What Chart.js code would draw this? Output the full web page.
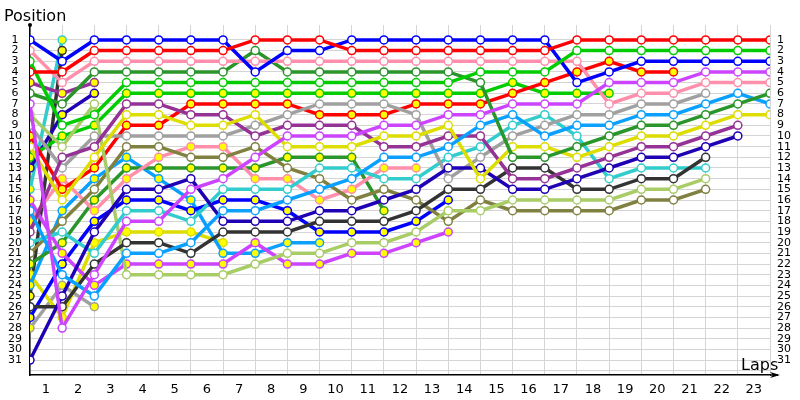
<!DOCTYPE html>
<html>
<head>
<meta charset="utf-8">
<title>Lap chart</title>
<script src="https://cdn.jsdelivr.net/npm/chart.js@4.4.1/dist/chart.umd.min.js"></script>
<style>
  html, body { margin: 0; padding: 0; background: #fff; }
  #wrap { width: 800px; height: 400px; }
</style>
</head>
<body>
<div id="wrap"><canvas id="LapChart"></canvas></div>
<script>
// laps on the x axis (0 = start grid) and the labels printed between them
const laps = [0, 1, 2, 3, 4, 5, 6, 7, 8, 9, 10, 11, 12, 13, 14, 15, 16, 17, 18, 19, 20, 21, 22, 23];
const lapLabels = ["1", "2", "3", "4", "5", "6", "7", "8", "9", "10", "11", "12", "13", "14", "15", "16", "17", "18", "19", "20", "21", "22", "23"];
const positions = [1, 2, 3, 4, 5, 6, 7, 8, 9, 10, 11, 12, 13, 14, 15, 16, 17, 18, 19, 20, 21, 22, 23, 24, 25, 26, 27, 28, 29, 30, 31];

// position of each car per lap (index = lap)
const blueW = [1, 3, 1, 1, 1, 1, 1, 4, 2, 2, 1, 1, 1, 1, 1, 1, 1, 5, 4, 3, 3, 3, 3, 3];
const redW = [4, 4, 2, 2, 2, 2, 2, 1, 1, 1, 2, 2, 2, 2, 2, 2, 2, 1, 1, 1, 1, 1, 1, 1];
const pinkW = [2, 5, 3, 3, 3, 3, 3, 3, 3, 3, 3, 3, 3, 3, 3, 3, 3, 3, 7, 6, 6, 5, 5, 5];
const forestW = [6, 7, 4, 4, 4, 4, 4, 2, 4, 4, 4, 4, 4, 4, 5, 12, 12, 11, 10, 9, 9, 8, 7, 6];
const brightW = [3, 9, 8, 5, 5, 5, 5, 5, 5, 5, 5, 5, 5, 5, 4, 4, 4, 2, 2, 2, 2, 2, 2, 2];
const magentaW = [7, 28, 23, 18, 18, 15, 14, 12, 10, 10, 10, 9, 9, 8, 8, 7, 7, 7, 5, 5, 5, 4, 4, 4];
const skyW = [17, 23, 25, 21, 21, 20, 17, 17, 16, 15, 14, 12, 12, 11, 9, 8, 10, 9, 9, 8, 8, 7, 6, 7];
const yellowW = [11, 16, 12, 8, 8, 9, 9, 8, 11, 11, 11, 10, 10, 9, 14, 11, 11, 12, 11, 10, 10, 9, 8, 8];
const purpleW = [19, 12, 11, 7, 7, 8, 8, 10, 9, 9, 9, 11, 11, 10, 10, 14, 14, 13, 12, 11, 11, 10, 9];
const indigoW = [31, 25, 19, 15, 15, 14, 18, 18, 18, 17, 17, 16, 15, 13, 13, 15, 15, 14, 13, 12, 12, 11, 10];
const grayW = [9, 13, 10, 10, 10, 10, 10, 9, 8, 7, 7, 7, 8, 14, 12, 10, 9, 8, 8, 7, 7, 6];
const darkW = [26, 26, 22, 20, 20, 21, 19, 19, 19, 18, 18, 18, 17, 15, 15, 13, 13, 15, 15, 14, 14, 12];
const cyanW = [20, 19, 21, 17, 17, 18, 15, 15, 15, 13, 13, 14, 14, 12, 11, 9, 8, 10, 14, 13, 13, 13];
const lightGreenW = [8, 11, 7, 23, 23, 23, 23, 22, 21, 21, 20, 20, 19, 17, 17, 16, 16, 16, 16, 15, 15, 14];
const oliveW = [21, 18, 15, 11, 11, 12, 12, 11, 13, 14, 16, 15, 16, 18, 16, 17, 17, 17, 17, 16, 16, 15];
const redY = [10, 15, 13, 9, 9, 7, 7, 7, 7, 8, 8, 8, 7, 7, 7, 6, 5, 4, 3, 4, 4];
const brightY = [12, 10, 9, 6, 6, 6, 6, 6, 6, 6, 6, 6, 6, 6, 6, 5, 6, 6, 6];
const magentaY = [16, 21, 24, 22, 22, 22, 22, 20, 22, 22, 21, 21, 20, 19];
const blueY = [27, 22, 18, 16, 16, 17, 16, 16, 17, 19, 19, 19, 18, 16];
const pinkY = [18, 14, 17, 14, 12, 11, 11, 14, 14, 16, 15, 13, 13];
const forestY = [22, 20, 16, 13, 13, 13, 13, 13, 12, 12, 12, 17];
const skyY = [24, 17, 14, 12, 14, 16, 21, 21, 20, 20];
const yellowY = [23, 27, 20, 19, 19, 19, 20];
const purpleY = [5, 6, 5];
const indigoY = [13, 8, 6];
const grayY = [28, 24, 26];
const darkY = [25, 2];
const cyanY = [15, 1];

const cars = [
    { data: redW, color: "#ff0000", fill: "#ffffff" },
    { data: brightW, color: "#00cc00", fill: "#ffffff" },
    { data: blueW, color: "#0000ff", fill: "#ffffff" },
    { data: magentaW, color: "#cc44ff", fill: "#ffffff" },
    { data: pinkW, color: "#ff8fab", fill: "#ffffff" },
    { data: forestW, color: "#2a952a", fill: "#ffffff" },
    { data: skyW, color: "#0aa0ff", fill: "#ffffff" },
    { data: yellowW, color: "#dddd00", fill: "#ffffff" },
    { data: purpleW, color: "#953295", fill: "#ffffff" },
    { data: indigoW, color: "#2000b4", fill: "#ffffff" },
    { data: grayW, color: "#a0a0a0", fill: "#ffffff" },
    { data: darkW, color: "#333333", fill: "#ffffff" },
    { data: cyanW, color: "#33cccc", fill: "#ffffff" },
    { data: lightGreenW, color: "#a8cc66", fill: "#ffffff" },
    { data: oliveW, color: "#808040", fill: "#ffffff" },
    { data: redY, color: "#ff0000", fill: "#ffff00" },
    { data: brightY, color: "#00cc00", fill: "#ffff00" },
    { data: magentaY, color: "#cc44ff", fill: "#ffff00" },
    { data: blueY, color: "#0000ff", fill: "#ffff00" },
    { data: pinkY, color: "#ff8fab", fill: "#ffff00" },
    { data: forestY, color: "#2a952a", fill: "#ffff00" },
    { data: skyY, color: "#0aa0ff", fill: "#ffff00" },
    { data: yellowY, color: "#dddd00", fill: "#ffff00" },
    { data: purpleY, color: "#953295", fill: "#ffff00" },
    { data: indigoY, color: "#2000b4", fill: "#ffff00" },
    { data: grayY, color: "#a0a0a0", fill: "#ffff00" },
    { data: darkY, color: "#333333", fill: "#ffff00" },
    { data: cyanY, color: "#33cccc", fill: "#ffff00" }
];

const FONT = "'DejaVu Sans', Verdana, sans-serif";

// axis arrow, dot and the two axis captions
const decorations = {
    id: "decorations",
    afterDraw(chart) {
        const c = chart.ctx;
        const a = chart.chartArea;
        c.save();
        c.fillStyle = "#000";
        c.strokeStyle = "#000";
        c.lineWidth = 1.5;
        c.beginPath();
        c.arc(a.left, a.top, 2, 0, Math.PI * 2);
        c.fill();
        c.beginPath();
        c.moveTo(a.right, a.bottom);
        c.lineTo(a.right + 8, a.bottom);
        c.stroke();
        c.beginPath();
        c.moveTo(a.right + 10, a.bottom);
        c.lineTo(a.right, a.bottom - 3);
        c.lineTo(a.right + 3, a.bottom);
        c.lineTo(a.right, a.bottom + 3);
        c.closePath();
        c.fill();
        c.font = "16px " + FONT;
        c.textBaseline = "alphabetic";
        c.textAlign = "left";
        c.fillText("Position", 4, 21);
        c.fillText("Laps", 741, 370);
        c.restore();
    }
};

const ctx = document.getElementById("LapChart").getContext("2d");
new Chart(ctx, {
    type: "line",
    data: {
        datasets: cars.map(car => ({
            data: car.data.map((p, i) => ({ x: laps[i], y: p })),
            borderColor: car.color,
            backgroundColor: car.color,
            borderWidth: 3.5,
            pointRadius: 4,
            pointBorderWidth: 1.5,
            pointBorderColor: car.color,
            pointBackgroundColor: car.fill,
            tension: 0,
            fill: false
        }))
    },
    options: {
        responsive: true,
        maintainAspectRatio: false,
        animation: false,
        events: [],
        layout: { padding: { top: 25, left: 0, right: 0, bottom: 0 } },
        plugins: { legend: { display: false }, tooltip: { enabled: false } },
        scales: {
            x: {
                type: "linear",
                min: 0,
                max: 23,
                afterBuildTicks: scale => { scale.ticks = laps.map(v => ({ value: v })); },
                afterFit: scale => { scale.height = 25; },
                grid: { color: "#d4d4d4", lineWidth: 1, drawTicks: false },
                border: { color: "#000", width: 1.5 },
                ticks: {
                    padding: 7,
                    labelOffset: 16,
                    maxRotation: 0,
                    autoSkip: false,
                    color: "#000",
                    font: { family: FONT, size: 13 },
                    callback: v => lapLabels[v] || ""
                }
            },
            y: {
                reverse: true,
                min: -0.4,
                max: 32.4,
                afterBuildTicks: scale => { scale.ticks = positions.concat([32]).map(v => ({ value: v })); },
                afterFit: scale => { scale.width = 30; },
                grid: { color: "#d4d4d4", lineWidth: 1, drawTicks: false },
                border: { color: "#000", width: 1.5 },
                ticks: {
                    padding: 8,
                    crossAlign: "center",
                    autoSkip: false,
                    color: "#000",
                    font: { family: FONT, size: 11 },
                    callback: v => positions.includes(v) ? String(v) : ""
                }
            },
            yRight: {
                position: "right",
                reverse: true,
                min: -0.4,
                max: 32.4,
                afterBuildTicks: scale => { scale.ticks = positions.map(v => ({ value: v })); },
                afterFit: scale => { scale.width = 30; },
                grid: { display: false, drawTicks: false },
                border: { display: false },
                ticks: {
                    padding: 7,
                    autoSkip: false,
                    color: "#000",
                    font: { family: FONT, size: 11 },
                    callback: v => String(v)
                }
            }
        }
    },
    plugins: [decorations]
});
</script>
</body>
</html>
